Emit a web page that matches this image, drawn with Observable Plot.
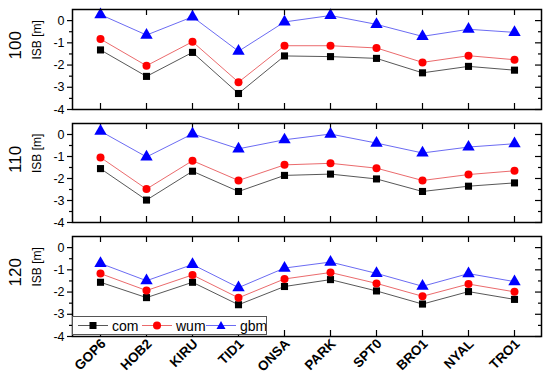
<!DOCTYPE html>
<html><head><meta charset="utf-8">
<script src="https://cdn.jsdelivr.net/npm/d3@7"></script>
<script src="https://cdn.jsdelivr.net/npm/@observablehq/plot@0.6"></script>
<style>
body{margin:0;background:#fff;font-family:"Liberation Sans",Arial,sans-serif;}
#wrap{position:relative;width:550px;height:380px;overflow:hidden;}
#wrap svg.p{position:absolute;left:0;}
#legend{position:absolute;left:72px;top:316px;width:195px;height:19px;border:1px solid #555;background:#fff;box-sizing:border-box;}
</style>
</head><body>
<div id="wrap"></div>
<script>
const stations = ["GOP6","HOB2","KIRU","TID1","ONSA","PARK","SPT0","BRO1","NYAL","TRO1"];
const panels = ["100","110","120"];
const series = ["com","wum","gbm"];
const majorTicks = [0,-1,-2,-3,-4];
const minorTicks = [-0.5,-1.5,-2.5,-3.5];

const com100 = [-1.32,-2.51,-1.43,-3.28,-1.59,-1.62,-1.70,-2.35,-2.06,-2.23];
const wum100 = [-0.83,-2.03,-0.95,-2.77,-1.13,-1.13,-1.23,-1.88,-1.58,-1.76];
const gbm100 = [0.27,-0.65,0.17,-1.38,-0.06,0.23,-0.17,-0.71,-0.39,-0.53];

const com110 = [-1.55,-2.98,-1.67,-2.59,-1.86,-1.80,-2.02,-2.59,-2.35,-2.20];
const wum110 = [-1.04,-2.48,-1.19,-2.09,-1.38,-1.31,-1.53,-2.09,-1.82,-1.65];
const gbm110 = [0.15,-1.02,0.03,-0.65,-0.24,0.02,-0.39,-0.84,-0.57,-0.42];

const com120 = [-1.56,-2.25,-1.56,-2.57,-1.75,-1.44,-1.95,-2.54,-1.98,-2.33];
const wum120 = [-1.17,-1.93,-1.23,-2.26,-1.41,-1.12,-1.61,-2.19,-1.64,-1.99];
const gbm120 = [-0.71,-1.49,-0.76,-1.80,-0.92,-0.65,-1.16,-1.74,-1.17,-1.53];

const values = {"100":[com100,wum100,gbm100],"110":[com110,wum110,gbm110],"120":[com120,wum120,gbm120]};
const lineColors = ["#444","#e8595b","#5a5af0"];
const dotColors = ["#000","#ff0000","#0000ff"];
const symbols = ["square","circle","triangle"];

const layout = [
  {top:0, height:112, mt:9, mb:3, xlabels:false},
  {top:112, height:113, mt:11, mb:3, xlabels:false},
  {top:225, height:155, mt:11, mb:44, xlabels:true}
];

const FONT = '"Liberation Sans", Arial, sans-serif';
const wrap = document.getElementById("wrap");

panels.forEach((p, i) => {
  const L = layout[i];
  const ph = L.height - L.mt - L.mb;
  const pw = 550 - 72 - 9;
  const marks = [];
  marks.push(Plot.axisY({ticks: majorTicks, tickSize: 5, tickPadding: 3, tickFormat: d => String(d), fontSize: 12.5, label: null, strokeWidth: 1.2}));
  marks.push(Plot.axisY({ticks: minorTicks, tickSize: 3, tickFormat: () => "", label: null, strokeWidth: 1.2}));
  marks.push(Plot.ruleY(majorTicks, {insetLeft: pw - 6, stroke: "#000", strokeWidth: 1.2}));
  marks.push(Plot.ruleY(minorTicks, {insetLeft: pw - 3, stroke: "#000", strokeWidth: 1.2}));
  marks.push(Plot.ruleX(stations, {insetTop: ph - 6, stroke: "#000", strokeWidth: 1.2}));
  marks.push(Plot.ruleX(stations, {insetBottom: ph - 6, stroke: "#000", strokeWidth: 1.2}));
  if (L.xlabels) {
    marks.push(Plot.axisX({tickSize: 0, tickPadding: 5, tickRotate: -45, fontSize: 13.5, fontWeight: "bold", label: null, dx: 3}));
  }
  series.forEach((s, k) => {
    const rows = stations.map((st, j) => ({station: st, v: values[p][k][j]}));
    marks.push(Plot.line(rows, {x: "station", y: "v", stroke: lineColors[k], strokeWidth: 0.9}));
  });
  series.forEach((s, k) => {
    const rows = stations.map((st, j) => ({station: st, v: values[p][k][j]}));
    marks.push(Plot.dot(rows, {x: "station", y: "v", symbol: () => symbols[k], fill: dotColors[k], stroke: "none", r: k === 2 ? 4.6 : 4}));
  });
  marks.push(Plot.frame({stroke: "#000", strokeWidth: 1.5}));
  marks.push(Plot.text([p], {text: d => d, frameAnchor: "left", dx: -57, rotate: -90, fontSize: 17}));
  marks.push(Plot.text(["ISB [m]"], {text: d => d, frameAnchor: "left", dx: -35, rotate: -90, fontSize: 12}));
  const svg = Plot.plot({
    width: 550, height: L.height,
    marginLeft: 72, marginRight: 9, marginTop: L.mt, marginBottom: L.mb,
    x: {type: "point", domain: stations, padding: 0.5, axis: null},
    y: {domain: [-4, 0.5], axis: null},
    symbol: {type: "identity"},
    style: {fontFamily: FONT, color: "#000", background: "transparent", overflow: "visible"},
    marks
  });
  svg.classList.add("p");
  svg.style.top = L.top + "px";
  wrap.appendChild(svg);
});

// legend
const lg = document.createElement("div");
lg.id = "legend";
const ns = "http://www.w3.org/2000/svg";
const lsvg = document.createElementNS(ns, "svg");
lsvg.setAttribute("width", 193); lsvg.setAttribute("height", 17);
lsvg.style.display = "block";
const items = [{x0:5, tx:39},{x0:69, tx:103},{x0:133, tx:167}];
series.forEach((s, k) => {
  const it = items[k];
  const ln = document.createElementNS(ns, "line");
  ln.setAttribute("x1", it.x0); ln.setAttribute("x2", it.x0 + 30);
  ln.setAttribute("y1", 8.5); ln.setAttribute("y2", 8.5);
  ln.setAttribute("stroke", lineColors[k]); ln.setAttribute("stroke-width", 0.9);
  lsvg.appendChild(ln);
  const cx = it.x0 + 15;
  let m;
  if (k === 0) { m = document.createElementNS(ns, "rect"); m.setAttribute("x", cx - 3.5); m.setAttribute("y", 5); m.setAttribute("width", 7); m.setAttribute("height", 7); }
  else if (k === 1) { m = document.createElementNS(ns, "circle"); m.setAttribute("cx", cx); m.setAttribute("cy", 8.5); m.setAttribute("r", 4); }
  else { m = document.createElementNS(ns, "path"); m.setAttribute("d", `M${cx},4L${cx+4.5},12L${cx-4.5},12Z`); }
  m.setAttribute("fill", dotColors[k]);
  lsvg.appendChild(m);
  const t = document.createElementNS(ns, "text");
  t.setAttribute("x", it.tx); t.setAttribute("y", 13.5);
  t.setAttribute("font-size", 14); t.setAttribute("font-family", FONT);
  t.textContent = s;
  lsvg.appendChild(t);
});
lg.appendChild(lsvg);
wrap.appendChild(lg);
</script>
</body></html>
